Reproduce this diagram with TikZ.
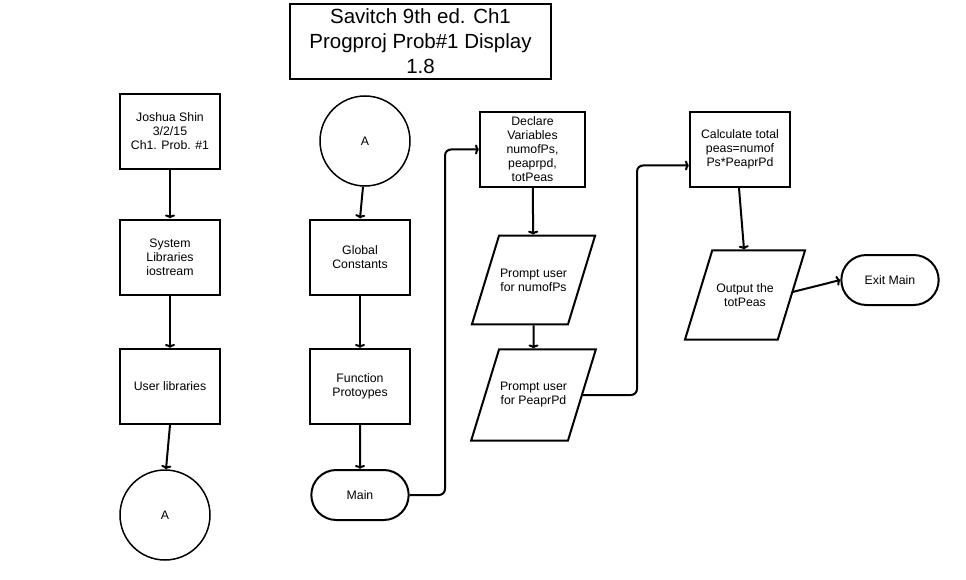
\documentclass[tikz,border=0pt]{standalone}
\usepackage{fontspec}
\setmainfont{Liberation Sans}
\usetikzlibrary{shapes.geometric}
\usetikzlibrary{shapes.misc}
\usetikzlibrary{arrows.meta}
\tikzstyle{object}=[draw, line width=2pt, align=center, font=\fontsize{12.3}{14}\selectfont]
\tikzstyle{process}=[object, rectangle, minimum width=100pt, minimum height=75pt, inner sep=2pt]
\tikzstyle{io}=[object, trapezium, trapezium left angle=73, trapezium right angle=107, trapezium stretches body=true, minimum width=120pt, inner xsep=1pt, inner ysep=33pt]
\tikzstyle{terminal}=[object, rounded rectangle, minimum width=104pt, minimum height=50pt]
\tikzstyle{offpage}=[object, circle, line width=1.5pt, minimum size=90pt]
\tikzstyle{flow}=[-{To[length=4pt,width=10pt]}, line width=2pt, rounded corners=6pt]

\begin{document}
\begin{tikzpicture}[x=1pt, y=-1pt]
  \useasboundingbox (0, 0) rectangle (966, 580);

  \node[draw, line width=1.6pt, minimum width=261pt, minimum height=75pt,
        align=center, font=\fontsize{20.5}{25}\selectfont] (title) at (420.5, 41.5)
    {Savitch 9th ed. Ch1\\Progproj Prob\#1 Display\\1.8};

  % first column
  \node[process] (author) at (170, 131.5) {Joshua Shin\\3/2/15\\Ch1. Prob. \#1};
  \node[process] (syslib) at (170, 257) {System\\Libraries\\iostream};
  \node[process] (userlib) at (170, 386.5) {User libraries};
  \node[offpage] (outA) at (165, 515) {A};

  % second column
  \node[offpage] (inA) at (365, 141) {A};
  \node[process] (global) at (360, 257) {Global\\Constants};
  \node[process] (proto) at (360, 386.5) {Function\\Protoypes};
  \node[terminal] (main) at (360, 495) {Main};

  % third column
  \node[process, minimum width=105pt] (declare) at (532.5, 149.5)
    {Declare\\Variables\\numofPs,\\peaprpd,\\totPeas};
  \node[io] (askps) at (533.5, 280) {Prompt user\\for numofPs};
  \node[io] (askpd) at (533.5, 395) {Prompt user\\for PeaprPd};

  % fourth column
  \node[process] (calc) at (740, 149.5) {Calculate total\\peas=numof\\Ps*PeaprPd};
  \node[io] (output) at (745, 295) {Output the\\totPeas};
  \node[terminal] (exit) at (890, 280) {Exit Main};

  \draw[flow] (author) -- (syslib);
  \draw[flow] (syslib) -- (userlib);
  \draw[flow] (userlib.south) -- ([xshift=1pt]outA.north);
  \draw[flow] ([xshift=-2pt]inA.south) -- (global.north);
  \draw[flow] (global) -- (proto);
  \draw[flow] (proto) -- (main);
  \draw[flow] (main.east) -| (445, 300) |- (declare.west);
  \draw[flow] (declare) -- (askps);
  \draw[flow] (askps) -- (askpd);
  \draw[flow] (askpd.east) -| (637, 300) |- ([yshift=-16pt]calc.west);
  \draw[flow] ([xshift=-1pt]calc.south) -- ([xshift=-1pt]output.north);
  \draw[flow] ([yshift=3pt]output.east) -- (exit.west);
\end{tikzpicture}
\end{document}
